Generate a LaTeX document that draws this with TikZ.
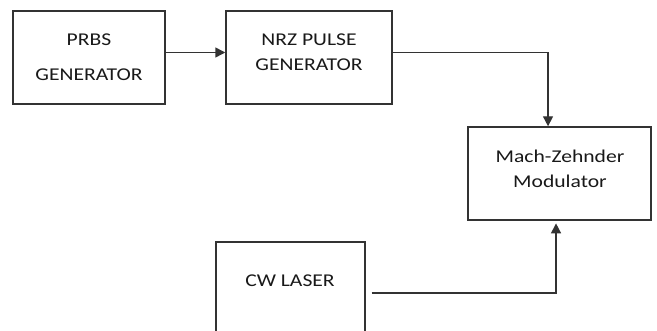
\documentclass[tikz,border=0pt]{standalone}
\usepackage{fontspec}
\setmainfont[FakeStretch=1.2]{Carlito}
\usetikzlibrary{arrows.meta}
\tikzset{
  blk/.style={draw=black!80,line width=1.1pt,inner sep=0pt},
  lbl/.style={font=\fontsize{13.5}{16}\selectfont,text=black!90,inner sep=0pt},
  arr/.style={draw=black!80,line width=1.1pt,-{Triangle[length=7.5pt,width=7.5pt]}},
}
\begin{document}
\begin{tikzpicture}[x=0.75pt,y=-0.75pt]
            \clip (0,0) rectangle (657,331);
            \fill[white] (0,0) rectangle (657,331);
            % blocks
            \node[blk,minimum width=114pt,minimum height=69.75pt] (prbs) at (89,57.5) {};
            \node[blk,minimum width=124.5pt,minimum height=69.75pt] (nrz) at (309,57.5) {};
            \node[blk,minimum width=137.25pt,minimum height=69.75pt] (mzm) at (559.5,173.5) {};
            \node[blk,minimum width=111.75pt,minimum height=69.75pt] (laser) at (290.5,288.5) {};
            % labels
            \node[lbl] (prbs-a) at (89,40) {PRBS};
            \node[lbl] (prbs-b) at (89,75) {GENERATOR};
            \node[lbl] (nrz-a) at (309,39.5) {NRZ PULSE};
            \node[lbl] (nrz-b) at (309,65) {GENERATOR};
            \node[lbl] (mzm-a) at (560,156) {Mach-Zehnder};
            \node[lbl] (mzm-b) at (560,181) {Modulator};
            \node[lbl] (laser-a) at (290,281) {CW LASER};
            % connectors
            \draw[arr] ([yshift=3.75pt]prbs.east) -- ([yshift=3.75pt]nrz.west);
            \draw[arr] ([yshift=3.75pt]nrz.east) -| ([xshift=-8.6pt]mzm.north);
            \draw[arr] ([xshift=4.5pt,yshift=-3.4pt]laser.east) -| ([xshift=-2.6pt,yshift=-2pt]mzm.south);
        \end{tikzpicture}
\end{document}
